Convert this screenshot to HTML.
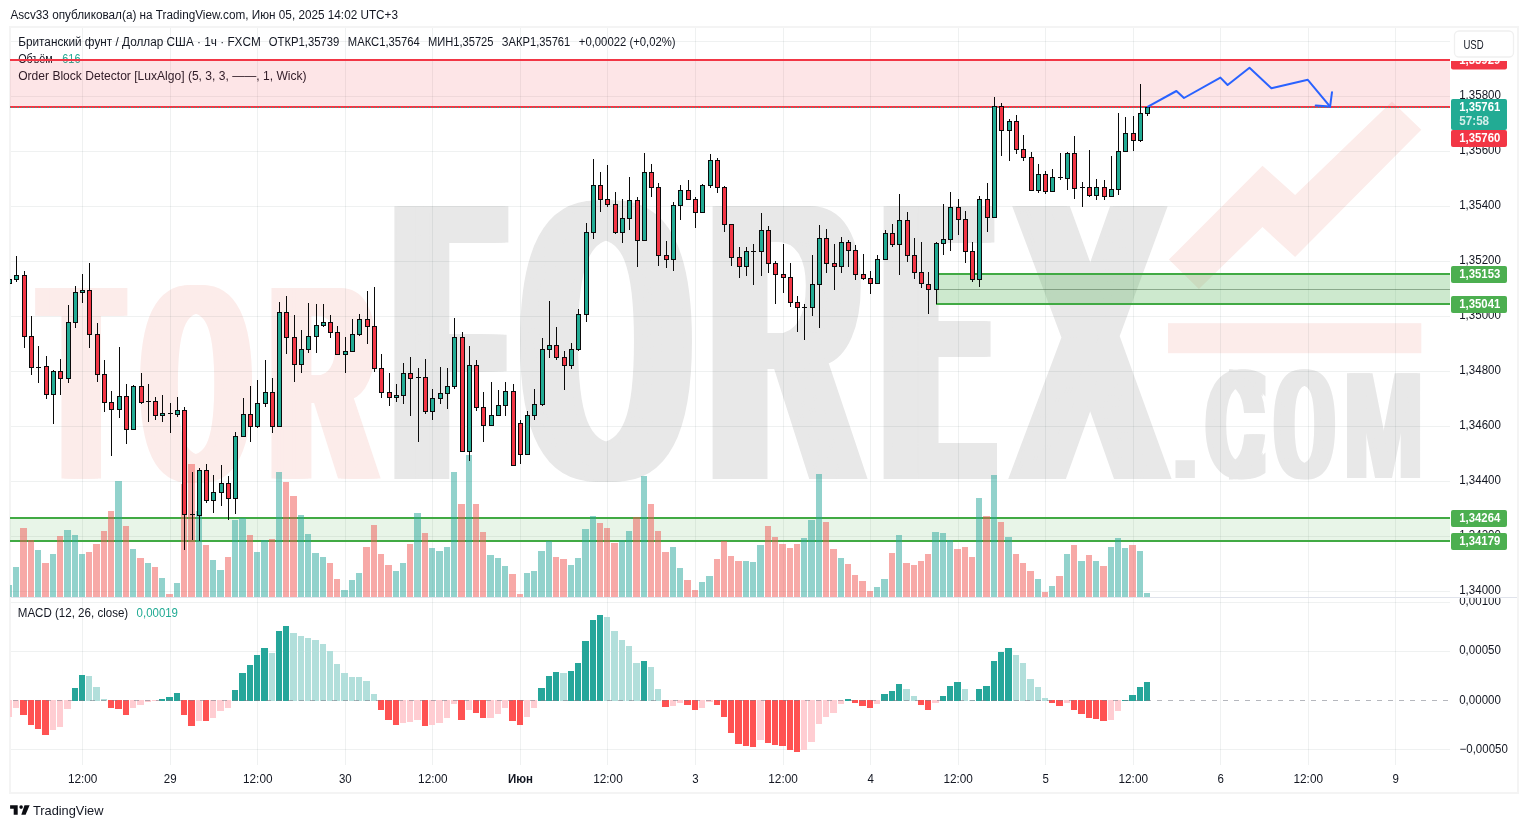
<!DOCTYPE html><html lang="ru"><head><meta charset="utf-8"><title>GBPUSD</title><style>html,body{margin:0;padding:0;background:#fff;overflow:hidden}svg{display:block}</style></head><body><svg width="1528" height="828" viewBox="0 0 1528 828" font-family='"Liberation Sans", sans-serif' font-size="12" fill="#131722">
<rect width="1528" height="828" fill="#fff"/>
<rect x="10" y="27" width="1508" height="766" fill="#fff" stroke="#f4f4f4" stroke-width="2"/>
<defs><clipPath id="cm"><rect x="10" y="28" width="1440" height="569"/></clipPath><clipPath id="cp"><rect x="10" y="598" width="1440" height="167"/></clipPath><clipPath id="ca"><rect x="1451" y="598" width="66" height="167"/></clipPath><clipPath id="cl"><rect x="1451" y="61" width="66" height="536"/></clipPath></defs>
<g clip-path="url(#cm)">
<g stroke-linejoin="miter"><text transform="translate(34.17,474.97) scale(0.4184,1)" font-family='"Liberation Sans", sans-serif' font-weight="normal" font-size="266.34" stroke-width="7.26" fill="#fcecea" stroke="#fcecea">T</text><text transform="translate(131.88,474.62) scale(0.7697,1)" font-family='"DejaVu Sans Mono", monospace' font-weight="normal" font-size="250.74" stroke-width="7.74" fill="#fcecea" stroke="#fcecea">O</text><text transform="translate(262.25,474.97) scale(0.5079,1)" font-family='"Liberation Sans", sans-serif' font-weight="normal" font-size="266.34" stroke-width="7.26" fill="#fcecea" stroke="#fcecea">R</text><text transform="translate(383.43,475.70) scale(0.3862,1)" font-family='"Liberation Sans", sans-serif' font-weight="normal" font-size="386.76" stroke-width="6.61" fill="#e8e8e8" stroke="#e8e8e8">F</text><text transform="translate(507.15,471.78) scale(0.8247,1)" font-family='"DejaVu Sans Mono", monospace' font-weight="normal" font-size="359.02" stroke-width="9.78" fill="#e8e8e8" stroke="#e8e8e8">O</text><text transform="translate(698.11,475.70) scale(0.5099,1)" font-family='"Liberation Sans", sans-serif' font-weight="normal" font-size="386.76" stroke-width="6.61" fill="#e8e8e8" stroke="#e8e8e8">R</text><text transform="translate(874.02,475.70) scale(0.3370,1)" font-family='"Liberation Sans", sans-serif' font-weight="normal" font-size="386.76" stroke-width="6.61" fill="#e8e8e8" stroke="#e8e8e8">E</text><text transform="translate(1007.13,475.70) scale(0.5132,1)" font-family='"Liberation Sans", sans-serif' font-weight="normal" font-size="386.76" stroke-width="6.61" fill="#e8e8e8" stroke="#e8e8e8">X</text><text transform="translate(1166.19,477.80) scale(1.1523,1)" font-family='"Liberation Sans", sans-serif' font-weight="bold" font-size="118.79" stroke-width="0.00" fill="#e8e8e8" stroke="#e8e8e8">.</text><text transform="translate(1199.69,475.15) scale(0.8049,1)" font-family='"DejaVu Sans Mono", monospace' font-weight="normal" font-size="138.31" stroke-width="4.63" fill="#e8e8e8" stroke="#e8e8e8">C</text><text transform="translate(1269.47,475.15) scale(0.7606,1)" font-family='"DejaVu Sans Mono", monospace' font-weight="normal" font-size="138.31" stroke-width="4.63" fill="#e8e8e8" stroke="#e8e8e8">O</text><text transform="translate(1340.70,477.80) scale(0.6198,1)" font-family='"Liberation Sans", sans-serif' font-weight="bold" font-size="151.74" stroke-width="0.00" fill="#e8e8e8" stroke="#e8e8e8">M</text><text transform="translate(37.08,474.97) scale(0.4184,1)" font-family='"Liberation Sans", sans-serif' font-weight="normal" font-size="266.34" stroke-width="7.26" fill="#fcecea" stroke="#fcecea">T</text><text transform="translate(134.31,474.62) scale(0.7697,1)" font-family='"DejaVu Sans Mono", monospace' font-weight="normal" font-size="250.74" stroke-width="7.74" fill="#fcecea" stroke="#fcecea">O</text><text transform="translate(265.20,474.97) scale(0.5079,1)" font-family='"Liberation Sans", sans-serif' font-weight="normal" font-size="266.34" stroke-width="7.26" fill="#fcecea" stroke="#fcecea">R</text><text transform="translate(386.38,475.70) scale(0.3862,1)" font-family='"Liberation Sans", sans-serif' font-weight="normal" font-size="386.76" stroke-width="6.61" fill="#e8e8e8" stroke="#e8e8e8">F</text><text transform="translate(509.93,471.78) scale(0.8247,1)" font-family='"DejaVu Sans Mono", monospace' font-weight="normal" font-size="359.02" stroke-width="9.78" fill="#e8e8e8" stroke="#e8e8e8">O</text><text transform="translate(700.87,475.70) scale(0.5099,1)" font-family='"Liberation Sans", sans-serif' font-weight="normal" font-size="386.76" stroke-width="6.61" fill="#e8e8e8" stroke="#e8e8e8">R</text><text transform="translate(876.92,475.70) scale(0.3370,1)" font-family='"Liberation Sans", sans-serif' font-weight="normal" font-size="386.76" stroke-width="6.61" fill="#e8e8e8" stroke="#e8e8e8">E</text><text transform="translate(1010.13,475.70) scale(0.5132,1)" font-family='"Liberation Sans", sans-serif' font-weight="normal" font-size="386.76" stroke-width="6.61" fill="#e8e8e8" stroke="#e8e8e8">X</text><text transform="translate(1202.50,475.15) scale(0.8049,1)" font-family='"DejaVu Sans Mono", monospace' font-weight="normal" font-size="138.31" stroke-width="4.63" fill="#e8e8e8" stroke="#e8e8e8">C</text><text transform="translate(1271.61,475.15) scale(0.7606,1)" font-family='"DejaVu Sans Mono", monospace' font-weight="normal" font-size="138.31" stroke-width="4.63" fill="#e8e8e8" stroke="#e8e8e8">O</text><text transform="translate(1343.12,477.80) scale(0.6198,1)" font-family='"Liberation Sans", sans-serif' font-weight="bold" font-size="151.74" stroke-width="0.00" fill="#e8e8e8" stroke="#e8e8e8">M</text><text transform="translate(39.99,474.97) scale(0.4184,1)" font-family='"Liberation Sans", sans-serif' font-weight="normal" font-size="266.34" stroke-width="7.26" fill="#fcecea" stroke="#fcecea">T</text><text transform="translate(136.74,474.62) scale(0.7697,1)" font-family='"DejaVu Sans Mono", monospace' font-weight="normal" font-size="250.74" stroke-width="7.74" fill="#fcecea" stroke="#fcecea">O</text><text transform="translate(268.15,474.97) scale(0.5079,1)" font-family='"Liberation Sans", sans-serif' font-weight="normal" font-size="266.34" stroke-width="7.26" fill="#fcecea" stroke="#fcecea">R</text><text transform="translate(389.34,475.70) scale(0.3862,1)" font-family='"Liberation Sans", sans-serif' font-weight="normal" font-size="386.76" stroke-width="6.61" fill="#e8e8e8" stroke="#e8e8e8">F</text><text transform="translate(512.71,471.78) scale(0.8247,1)" font-family='"DejaVu Sans Mono", monospace' font-weight="normal" font-size="359.02" stroke-width="9.78" fill="#e8e8e8" stroke="#e8e8e8">O</text><text transform="translate(703.63,475.70) scale(0.5099,1)" font-family='"Liberation Sans", sans-serif' font-weight="normal" font-size="386.76" stroke-width="6.61" fill="#e8e8e8" stroke="#e8e8e8">R</text><text transform="translate(879.81,475.70) scale(0.3370,1)" font-family='"Liberation Sans", sans-serif' font-weight="normal" font-size="386.76" stroke-width="6.61" fill="#e8e8e8" stroke="#e8e8e8">E</text><text transform="translate(1013.12,475.70) scale(0.5132,1)" font-family='"Liberation Sans", sans-serif' font-weight="normal" font-size="386.76" stroke-width="6.61" fill="#e8e8e8" stroke="#e8e8e8">X</text><text transform="translate(1205.30,475.15) scale(0.8049,1)" font-family='"DejaVu Sans Mono", monospace' font-weight="normal" font-size="138.31" stroke-width="4.63" fill="#e8e8e8" stroke="#e8e8e8">C</text><text transform="translate(1273.76,475.15) scale(0.7606,1)" font-family='"DejaVu Sans Mono", monospace' font-weight="normal" font-size="138.31" stroke-width="4.63" fill="#e8e8e8" stroke="#e8e8e8">O</text><text transform="translate(1345.54,477.80) scale(0.6198,1)" font-family='"Liberation Sans", sans-serif' font-weight="bold" font-size="151.74" stroke-width="0.00" fill="#e8e8e8" stroke="#e8e8e8">M</text><text transform="translate(42.90,474.97) scale(0.4184,1)" font-family='"Liberation Sans", sans-serif' font-weight="normal" font-size="266.34" stroke-width="7.26" fill="#fcecea" stroke="#fcecea">T</text><text transform="translate(139.18,474.62) scale(0.7697,1)" font-family='"DejaVu Sans Mono", monospace' font-weight="normal" font-size="250.74" stroke-width="7.74" fill="#fcecea" stroke="#fcecea">O</text><text transform="translate(271.10,474.97) scale(0.5079,1)" font-family='"Liberation Sans", sans-serif' font-weight="normal" font-size="266.34" stroke-width="7.26" fill="#fcecea" stroke="#fcecea">R</text><text transform="translate(392.29,475.70) scale(0.3862,1)" font-family='"Liberation Sans", sans-serif' font-weight="normal" font-size="386.76" stroke-width="6.61" fill="#e8e8e8" stroke="#e8e8e8">F</text><text transform="translate(515.48,471.78) scale(0.8247,1)" font-family='"DejaVu Sans Mono", monospace' font-weight="normal" font-size="359.02" stroke-width="9.78" fill="#e8e8e8" stroke="#e8e8e8">O</text><text transform="translate(706.39,475.70) scale(0.5099,1)" font-family='"Liberation Sans", sans-serif' font-weight="normal" font-size="386.76" stroke-width="6.61" fill="#e8e8e8" stroke="#e8e8e8">R</text><text transform="translate(882.71,475.70) scale(0.3370,1)" font-family='"Liberation Sans", sans-serif' font-weight="normal" font-size="386.76" stroke-width="6.61" fill="#e8e8e8" stroke="#e8e8e8">E</text><text transform="translate(1016.12,475.70) scale(0.5132,1)" font-family='"Liberation Sans", sans-serif' font-weight="normal" font-size="386.76" stroke-width="6.61" fill="#e8e8e8" stroke="#e8e8e8">X</text><text transform="translate(1275.91,475.15) scale(0.7606,1)" font-family='"DejaVu Sans Mono", monospace' font-weight="normal" font-size="138.31" stroke-width="4.63" fill="#e8e8e8" stroke="#e8e8e8">O</text><text transform="translate(1347.95,477.80) scale(0.6198,1)" font-family='"Liberation Sans", sans-serif' font-weight="bold" font-size="151.74" stroke-width="0.00" fill="#e8e8e8" stroke="#e8e8e8">M</text><text transform="translate(45.81,474.97) scale(0.4184,1)" font-family='"Liberation Sans", sans-serif' font-weight="normal" font-size="266.34" stroke-width="7.26" fill="#fcecea" stroke="#fcecea">T</text><text transform="translate(141.61,474.62) scale(0.7697,1)" font-family='"DejaVu Sans Mono", monospace' font-weight="normal" font-size="250.74" stroke-width="7.74" fill="#fcecea" stroke="#fcecea">O</text><text transform="translate(274.05,474.97) scale(0.5079,1)" font-family='"Liberation Sans", sans-serif' font-weight="normal" font-size="266.34" stroke-width="7.26" fill="#fcecea" stroke="#fcecea">R</text><text transform="translate(395.25,475.70) scale(0.3862,1)" font-family='"Liberation Sans", sans-serif' font-weight="normal" font-size="386.76" stroke-width="6.61" fill="#e8e8e8" stroke="#e8e8e8">F</text><text transform="translate(518.26,471.78) scale(0.8247,1)" font-family='"DejaVu Sans Mono", monospace' font-weight="normal" font-size="359.02" stroke-width="9.78" fill="#e8e8e8" stroke="#e8e8e8">O</text><text transform="translate(709.15,475.70) scale(0.5099,1)" font-family='"Liberation Sans", sans-serif' font-weight="normal" font-size="386.76" stroke-width="6.61" fill="#e8e8e8" stroke="#e8e8e8">R</text><text transform="translate(885.60,475.70) scale(0.3370,1)" font-family='"Liberation Sans", sans-serif' font-weight="normal" font-size="386.76" stroke-width="6.61" fill="#e8e8e8" stroke="#e8e8e8">E</text><text transform="translate(1019.11,475.70) scale(0.5132,1)" font-family='"Liberation Sans", sans-serif' font-weight="normal" font-size="386.76" stroke-width="6.61" fill="#e8e8e8" stroke="#e8e8e8">X</text><text transform="translate(48.72,474.97) scale(0.4184,1)" font-family='"Liberation Sans", sans-serif' font-weight="normal" font-size="266.34" stroke-width="7.26" fill="#fcecea" stroke="#fcecea">T</text><text transform="translate(144.04,474.62) scale(0.7697,1)" font-family='"DejaVu Sans Mono", monospace' font-weight="normal" font-size="250.74" stroke-width="7.74" fill="#fcecea" stroke="#fcecea">O</text><text transform="translate(277.00,474.97) scale(0.5079,1)" font-family='"Liberation Sans", sans-serif' font-weight="normal" font-size="266.34" stroke-width="7.26" fill="#fcecea" stroke="#fcecea">R</text><text transform="translate(398.20,475.70) scale(0.3862,1)" font-family='"Liberation Sans", sans-serif' font-weight="normal" font-size="386.76" stroke-width="6.61" fill="#e8e8e8" stroke="#e8e8e8">F</text><text transform="translate(521.04,471.78) scale(0.8247,1)" font-family='"DejaVu Sans Mono", monospace' font-weight="normal" font-size="359.02" stroke-width="9.78" fill="#e8e8e8" stroke="#e8e8e8">O</text><text transform="translate(711.90,475.70) scale(0.5099,1)" font-family='"Liberation Sans", sans-serif' font-weight="normal" font-size="386.76" stroke-width="6.61" fill="#e8e8e8" stroke="#e8e8e8">R</text><text transform="translate(888.50,475.70) scale(0.3370,1)" font-family='"Liberation Sans", sans-serif' font-weight="normal" font-size="386.76" stroke-width="6.61" fill="#e8e8e8" stroke="#e8e8e8">E</text><text transform="translate(1022.11,475.70) scale(0.5132,1)" font-family='"Liberation Sans", sans-serif' font-weight="normal" font-size="386.76" stroke-width="6.61" fill="#e8e8e8" stroke="#e8e8e8">X</text><text transform="translate(51.63,474.97) scale(0.4184,1)" font-family='"Liberation Sans", sans-serif' font-weight="normal" font-size="266.34" stroke-width="7.26" fill="#fcecea" stroke="#fcecea">T</text><text transform="translate(279.95,474.97) scale(0.5079,1)" font-family='"Liberation Sans", sans-serif' font-weight="normal" font-size="266.34" stroke-width="7.26" fill="#fcecea" stroke="#fcecea">R</text><text transform="translate(401.15,475.70) scale(0.3862,1)" font-family='"Liberation Sans", sans-serif' font-weight="normal" font-size="386.76" stroke-width="6.61" fill="#e8e8e8" stroke="#e8e8e8">F</text><text transform="translate(523.81,471.78) scale(0.8247,1)" font-family='"DejaVu Sans Mono", monospace' font-weight="normal" font-size="359.02" stroke-width="9.78" fill="#e8e8e8" stroke="#e8e8e8">O</text><text transform="translate(714.66,475.70) scale(0.5099,1)" font-family='"Liberation Sans", sans-serif' font-weight="normal" font-size="386.76" stroke-width="6.61" fill="#e8e8e8" stroke="#e8e8e8">R</text><text transform="translate(891.39,475.70) scale(0.3370,1)" font-family='"Liberation Sans", sans-serif' font-weight="normal" font-size="386.76" stroke-width="6.61" fill="#e8e8e8" stroke="#e8e8e8">E</text><text transform="translate(1025.10,475.70) scale(0.5132,1)" font-family='"Liberation Sans", sans-serif' font-weight="normal" font-size="386.76" stroke-width="6.61" fill="#e8e8e8" stroke="#e8e8e8">X</text><text transform="translate(54.53,474.97) scale(0.4184,1)" font-family='"Liberation Sans", sans-serif' font-weight="normal" font-size="266.34" stroke-width="7.26" fill="#fcecea" stroke="#fcecea">T</text><text transform="translate(282.90,474.97) scale(0.5079,1)" font-family='"Liberation Sans", sans-serif' font-weight="normal" font-size="266.34" stroke-width="7.26" fill="#fcecea" stroke="#fcecea">R</text><text transform="translate(404.11,475.70) scale(0.3862,1)" font-family='"Liberation Sans", sans-serif' font-weight="normal" font-size="386.76" stroke-width="6.61" fill="#e8e8e8" stroke="#e8e8e8">F</text><text transform="translate(526.59,471.78) scale(0.8247,1)" font-family='"DejaVu Sans Mono", monospace' font-weight="normal" font-size="359.02" stroke-width="9.78" fill="#e8e8e8" stroke="#e8e8e8">O</text><text transform="translate(717.42,475.70) scale(0.5099,1)" font-family='"Liberation Sans", sans-serif' font-weight="normal" font-size="386.76" stroke-width="6.61" fill="#e8e8e8" stroke="#e8e8e8">R</text><text transform="translate(894.28,475.70) scale(0.3370,1)" font-family='"Liberation Sans", sans-serif' font-weight="normal" font-size="386.76" stroke-width="6.61" fill="#e8e8e8" stroke="#e8e8e8">E</text><text transform="translate(1028.10,475.70) scale(0.5132,1)" font-family='"Liberation Sans", sans-serif' font-weight="normal" font-size="386.76" stroke-width="6.61" fill="#e8e8e8" stroke="#e8e8e8">X</text><text transform="translate(57.44,474.97) scale(0.4184,1)" font-family='"Liberation Sans", sans-serif' font-weight="normal" font-size="266.34" stroke-width="7.26" fill="#fcecea" stroke="#fcecea">T</text><text transform="translate(285.85,474.97) scale(0.5079,1)" font-family='"Liberation Sans", sans-serif' font-weight="normal" font-size="266.34" stroke-width="7.26" fill="#fcecea" stroke="#fcecea">R</text><text transform="translate(407.06,475.70) scale(0.3862,1)" font-family='"Liberation Sans", sans-serif' font-weight="normal" font-size="386.76" stroke-width="6.61" fill="#e8e8e8" stroke="#e8e8e8">F</text><text transform="translate(720.18,475.70) scale(0.5099,1)" font-family='"Liberation Sans", sans-serif' font-weight="normal" font-size="386.76" stroke-width="6.61" fill="#e8e8e8" stroke="#e8e8e8">R</text><text transform="translate(897.18,475.70) scale(0.3370,1)" font-family='"Liberation Sans", sans-serif' font-weight="normal" font-size="386.76" stroke-width="6.61" fill="#e8e8e8" stroke="#e8e8e8">E</text><text transform="translate(1031.09,475.70) scale(0.5132,1)" font-family='"Liberation Sans", sans-serif' font-weight="normal" font-size="386.76" stroke-width="6.61" fill="#e8e8e8" stroke="#e8e8e8">X</text><text transform="translate(60.35,474.97) scale(0.4184,1)" font-family='"Liberation Sans", sans-serif' font-weight="normal" font-size="266.34" stroke-width="7.26" fill="#fcecea" stroke="#fcecea">T</text><text transform="translate(410.02,475.70) scale(0.3862,1)" font-family='"Liberation Sans", sans-serif' font-weight="normal" font-size="386.76" stroke-width="6.61" fill="#e8e8e8" stroke="#e8e8e8">F</text><text transform="translate(722.94,475.70) scale(0.5099,1)" font-family='"Liberation Sans", sans-serif' font-weight="normal" font-size="386.76" stroke-width="6.61" fill="#e8e8e8" stroke="#e8e8e8">R</text><text transform="translate(900.07,475.70) scale(0.3370,1)" font-family='"Liberation Sans", sans-serif' font-weight="normal" font-size="386.76" stroke-width="6.61" fill="#e8e8e8" stroke="#e8e8e8">E</text><text transform="translate(1034.09,475.70) scale(0.5132,1)" font-family='"Liberation Sans", sans-serif' font-weight="normal" font-size="386.76" stroke-width="6.61" fill="#e8e8e8" stroke="#e8e8e8">X</text><text transform="translate(412.97,475.70) scale(0.3862,1)" font-family='"Liberation Sans", sans-serif' font-weight="normal" font-size="386.76" stroke-width="6.61" fill="#e8e8e8" stroke="#e8e8e8">F</text><text transform="translate(725.69,475.70) scale(0.5099,1)" font-family='"Liberation Sans", sans-serif' font-weight="normal" font-size="386.76" stroke-width="6.61" fill="#e8e8e8" stroke="#e8e8e8">R</text><text transform="translate(902.97,475.70) scale(0.3370,1)" font-family='"Liberation Sans", sans-serif' font-weight="normal" font-size="386.76" stroke-width="6.61" fill="#e8e8e8" stroke="#e8e8e8">E</text><text transform="translate(1037.09,475.70) scale(0.5132,1)" font-family='"Liberation Sans", sans-serif' font-weight="normal" font-size="386.76" stroke-width="6.61" fill="#e8e8e8" stroke="#e8e8e8">X</text><text transform="translate(415.93,475.70) scale(0.3862,1)" font-family='"Liberation Sans", sans-serif' font-weight="normal" font-size="386.76" stroke-width="6.61" fill="#e8e8e8" stroke="#e8e8e8">F</text><text transform="translate(728.45,475.70) scale(0.5099,1)" font-family='"Liberation Sans", sans-serif' font-weight="normal" font-size="386.76" stroke-width="6.61" fill="#e8e8e8" stroke="#e8e8e8">R</text><text transform="translate(905.86,475.70) scale(0.3370,1)" font-family='"Liberation Sans", sans-serif' font-weight="normal" font-size="386.76" stroke-width="6.61" fill="#e8e8e8" stroke="#e8e8e8">E</text><text transform="translate(1040.08,475.70) scale(0.5132,1)" font-family='"Liberation Sans", sans-serif' font-weight="normal" font-size="386.76" stroke-width="6.61" fill="#e8e8e8" stroke="#e8e8e8">X</text><text transform="translate(418.88,475.70) scale(0.3862,1)" font-family='"Liberation Sans", sans-serif' font-weight="normal" font-size="386.76" stroke-width="6.61" fill="#e8e8e8" stroke="#e8e8e8">F</text><text transform="translate(731.21,475.70) scale(0.5099,1)" font-family='"Liberation Sans", sans-serif' font-weight="normal" font-size="386.76" stroke-width="6.61" fill="#e8e8e8" stroke="#e8e8e8">R</text><text transform="translate(908.76,475.70) scale(0.3370,1)" font-family='"Liberation Sans", sans-serif' font-weight="normal" font-size="386.76" stroke-width="6.61" fill="#e8e8e8" stroke="#e8e8e8">E</text><text transform="translate(421.84,475.70) scale(0.3862,1)" font-family='"Liberation Sans", sans-serif' font-weight="normal" font-size="386.76" stroke-width="6.61" fill="#e8e8e8" stroke="#e8e8e8">F</text><text transform="translate(911.65,475.70) scale(0.3370,1)" font-family='"Liberation Sans", sans-serif' font-weight="normal" font-size="386.76" stroke-width="6.61" fill="#e8e8e8" stroke="#e8e8e8">E</text><text transform="translate(914.54,475.70) scale(0.3370,1)" font-family='"Liberation Sans", sans-serif' font-weight="normal" font-size="386.76" stroke-width="6.61" fill="#e8e8e8" stroke="#e8e8e8">E</text></g><clipPath id="cc"><rect x="1229" y="360" width="51" height="53"/><rect x="1229" y="434.6" width="51" height="50"/></clipPath><g clip-path="url(#cc)" fill="#e8e8e8" stroke="#e8e8e8" stroke-linejoin="miter"><text transform="translate(1265.60,475.15) scale(-0.8049,1)" font-family='"DejaVu Sans Mono", monospace' font-weight="normal" font-size="138.31" stroke-width="4.63">C</text><text transform="translate(1268.40,475.15) scale(-0.8049,1)" font-family='"DejaVu Sans Mono", monospace' font-weight="normal" font-size="138.31" stroke-width="4.63">C</text><text transform="translate(1271.21,475.15) scale(-0.8049,1)" font-family='"DejaVu Sans Mono", monospace' font-weight="normal" font-size="138.31" stroke-width="4.63">C</text></g><polygon fill="#fcecea" points="1168.9,259.6 1262.5,165.7 1295.1,195 1392,101.4 1421.3,129.8 1295.1,257 1262.5,227 1198.9,288.9"/><rect fill="#fcecea" x="1168" y="323.2" width="253.3" height="30"/>
</g>
<g fill="rgba(25,55,50,0.07)"><rect x="82" y="28" width="1" height="737"/><rect x="170" y="28" width="1" height="737"/><rect x="257" y="28" width="1" height="737"/><rect x="345" y="28" width="1" height="737"/><rect x="432" y="28" width="1" height="737"/><rect x="520" y="28" width="1" height="737"/><rect x="607" y="28" width="1" height="737"/><rect x="695" y="28" width="1" height="737"/><rect x="783" y="28" width="1" height="737"/><rect x="870" y="28" width="1" height="737"/><rect x="958" y="28" width="1" height="737"/><rect x="1045" y="28" width="1" height="737"/><rect x="1133" y="28" width="1" height="737"/><rect x="1220" y="28" width="1" height="737"/><rect x="1308" y="28" width="1" height="737"/><rect x="1395" y="28" width="1" height="737"/><rect x="11" y="41" width="1439" height="1"/><rect x="11" y="96" width="1439" height="1"/><rect x="11" y="151" width="1439" height="1"/><rect x="11" y="206" width="1439" height="1"/><rect x="11" y="261" width="1439" height="1"/><rect x="11" y="316" width="1439" height="1"/><rect x="11" y="371" width="1439" height="1"/><rect x="11" y="426" width="1439" height="1"/><rect x="11" y="481" width="1439" height="1"/><rect x="11" y="536" width="1439" height="1"/><rect x="11" y="591" width="1439" height="1"/><rect x="11" y="602" width="1439" height="1"/><rect x="11" y="651" width="1439" height="1"/><rect x="11" y="749" width="1439" height="1"/></g>
<rect x="11" y="597" width="1506" height="1" fill="#e0e3eb"/>
<text x="18.2" y="46.3" textLength="242.6" lengthAdjust="spacingAndGlyphs" font-size="12.5">Британский фунт / Доллар США · 1ч · FXCM</text>
<text x="268.8" y="46.3" textLength="70.5" lengthAdjust="spacingAndGlyphs" font-size="12.5">ОТКР1,35739</text>
<text x="347.8" y="46.3" textLength="71.9" lengthAdjust="spacingAndGlyphs" font-size="12.5">МАКС1,35764</text>
<text x="427.9" y="46.3" textLength="65.6" lengthAdjust="spacingAndGlyphs" font-size="12.5">МИН1,35725</text>
<text x="501.8" y="46.3" textLength="68.5" lengthAdjust="spacingAndGlyphs" font-size="12.5">ЗАКР1,35761</text>
<text x="578.8" y="46.3" textLength="96.8" lengthAdjust="spacingAndGlyphs" font-size="12.5">+0,00022 (+0,02%)</text>
<text x="18.2" y="63.2" textLength="34.5" lengthAdjust="spacingAndGlyphs" font-size="12.5">Объём</text>
<text x="62.3" y="63.2" textLength="18.2" lengthAdjust="spacingAndGlyphs" fill="#22ab94" font-size="12.5">616</text>
<text x="18.2" y="80.2" textLength="288.4" lengthAdjust="spacingAndGlyphs" font-size="12.5">Order Block Detector [LuxAlgo] (5, 3, 3, ——, 1, Wick)</text>
<g clip-path="url(#cm)">
<rect x="10" y="60" width="1440" height="47" fill="rgba(242,54,69,0.13)"/>
<rect x="10" y="59" width="1440" height="2" fill="#f23645"/><rect x="10" y="106" width="1440" height="2" fill="#f23645"/>
<rect x="10" y="518" width="1440" height="23" fill="rgba(76,175,80,0.13)"/>
<rect x="10" y="517" width="1440" height="2" fill="#41aa44"/><rect x="10" y="540" width="1440" height="2" fill="#41aa44"/>
<rect x="936" y="274" width="514" height="30" fill="rgba(76,175,80,0.28)"/>
<rect x="936" y="273" width="514" height="2" fill="#41aa44"/><rect x="936" y="303" width="514" height="2" fill="#41aa44"/>
<rect x="936" y="289" width="514" height="1" fill="rgba(60,90,60,0.45)"/>
</g>
<g clip-path="url(#cm)"><g fill="rgba(38,166,154,0.5)"><rect x="6" y="585" width="6" height="12"/><rect x="13" y="567" width="6" height="30"/><rect x="35" y="550" width="6" height="47"/><rect x="50" y="554" width="6" height="43"/><rect x="64" y="530" width="7" height="67"/><rect x="72" y="535" width="6" height="62"/><rect x="79" y="554" width="6" height="43"/><rect x="115" y="481" width="7" height="116"/><rect x="130" y="549" width="6" height="48"/><rect x="145" y="563" width="6" height="34"/><rect x="159" y="578" width="6" height="19"/><rect x="174" y="583" width="6" height="14"/><rect x="196" y="511" width="6" height="86"/><rect x="210" y="560" width="6" height="37"/><rect x="217" y="570" width="7" height="27"/><rect x="232" y="520" width="6" height="77"/><rect x="239" y="518" width="7" height="79"/><rect x="254" y="552" width="6" height="45"/><rect x="261" y="540" width="7" height="57"/><rect x="276" y="472" width="6" height="125"/><rect x="298" y="515" width="6" height="82"/><rect x="305" y="534" width="6" height="63"/><rect x="312" y="553" width="7" height="44"/><rect x="320" y="557" width="6" height="40"/><rect x="341" y="590" width="7" height="7"/><rect x="349" y="580" width="6" height="17"/><rect x="356" y="573" width="6" height="24"/><rect x="393" y="571" width="6" height="26"/><rect x="400" y="563" width="6" height="34"/><rect x="414" y="513" width="7" height="84"/><rect x="429" y="548" width="6" height="49"/><rect x="436" y="551" width="7" height="46"/><rect x="444" y="547" width="6" height="50"/><rect x="451" y="472" width="6" height="125"/><rect x="466" y="455" width="6" height="142"/><rect x="487" y="555" width="7" height="42"/><rect x="495" y="558" width="6" height="39"/><rect x="502" y="566" width="6" height="31"/><rect x="524" y="573" width="6" height="24"/><rect x="531" y="571" width="6" height="26"/><rect x="538" y="551" width="7" height="46"/><rect x="546" y="541" width="6" height="56"/><rect x="568" y="565" width="6" height="32"/><rect x="575" y="558" width="6" height="39"/><rect x="582" y="529" width="7" height="68"/><rect x="590" y="516" width="6" height="81"/><rect x="619" y="540" width="6" height="57"/><rect x="626" y="531" width="6" height="66"/><rect x="641" y="476" width="6" height="121"/><rect x="670" y="547" width="6" height="50"/><rect x="677" y="568" width="6" height="29"/><rect x="699" y="582" width="6" height="15"/><rect x="706" y="576" width="7" height="21"/><rect x="743" y="561" width="6" height="36"/><rect x="750" y="562" width="6" height="35"/><rect x="757" y="545" width="7" height="52"/><rect x="801" y="538" width="6" height="59"/><rect x="808" y="520" width="7" height="77"/><rect x="816" y="474" width="6" height="123"/><rect x="838" y="558" width="6" height="39"/><rect x="874" y="587" width="6" height="10"/><rect x="881" y="579" width="7" height="18"/><rect x="896" y="535" width="6" height="62"/><rect x="932" y="532" width="7" height="65"/><rect x="940" y="533" width="6" height="64"/><rect x="947" y="540" width="6" height="57"/><rect x="976" y="498" width="6" height="99"/><rect x="991" y="475" width="6" height="122"/><rect x="1005" y="537" width="7" height="60"/><rect x="1035" y="579" width="6" height="18"/><rect x="1049" y="586" width="6" height="11"/><rect x="1064" y="554" width="6" height="43"/><rect x="1078" y="561" width="7" height="36"/><rect x="1093" y="561" width="6" height="36"/><rect x="1108" y="547" width="6" height="50"/><rect x="1115" y="538" width="6" height="59"/><rect x="1122" y="548" width="6" height="49"/><rect x="1137" y="551" width="6" height="46"/><rect x="1144" y="593" width="6" height="4"/></g><g fill="rgba(239,83,80,0.5)"><rect x="20" y="528" width="7" height="69"/><rect x="28" y="540" width="6" height="57"/><rect x="42" y="563" width="7" height="34"/><rect x="57" y="536" width="6" height="61"/><rect x="86" y="552" width="6" height="45"/><rect x="93" y="544" width="7" height="53"/><rect x="101" y="531" width="6" height="66"/><rect x="108" y="511" width="6" height="86"/><rect x="123" y="526" width="6" height="71"/><rect x="137" y="558" width="7" height="39"/><rect x="152" y="567" width="6" height="30"/><rect x="166" y="594" width="7" height="3"/><rect x="181" y="484" width="6" height="113"/><rect x="188" y="464" width="7" height="133"/><rect x="203" y="545" width="6" height="52"/><rect x="225" y="557" width="6" height="40"/><rect x="247" y="535" width="6" height="62"/><rect x="269" y="539" width="6" height="58"/><rect x="283" y="482" width="6" height="115"/><rect x="290" y="496" width="7" height="101"/><rect x="327" y="563" width="6" height="34"/><rect x="334" y="579" width="6" height="18"/><rect x="363" y="547" width="7" height="50"/><rect x="371" y="525" width="6" height="72"/><rect x="378" y="554" width="6" height="43"/><rect x="385" y="565" width="7" height="32"/><rect x="407" y="544" width="6" height="53"/><rect x="422" y="533" width="6" height="64"/><rect x="458" y="504" width="7" height="93"/><rect x="473" y="504" width="6" height="93"/><rect x="480" y="532" width="6" height="65"/><rect x="509" y="574" width="7" height="23"/><rect x="517" y="594" width="6" height="3"/><rect x="553" y="557" width="6" height="40"/><rect x="560" y="559" width="7" height="38"/><rect x="597" y="523" width="6" height="74"/><rect x="604" y="528" width="6" height="69"/><rect x="611" y="543" width="7" height="54"/><rect x="633" y="517" width="7" height="80"/><rect x="648" y="504" width="6" height="93"/><rect x="655" y="531" width="6" height="66"/><rect x="662" y="552" width="7" height="45"/><rect x="684" y="580" width="7" height="17"/><rect x="692" y="590" width="6" height="7"/><rect x="714" y="559" width="6" height="38"/><rect x="721" y="541" width="6" height="56"/><rect x="728" y="556" width="6" height="41"/><rect x="735" y="561" width="7" height="36"/><rect x="765" y="526" width="6" height="71"/><rect x="772" y="537" width="6" height="60"/><rect x="779" y="544" width="7" height="53"/><rect x="787" y="548" width="6" height="49"/><rect x="794" y="544" width="6" height="53"/><rect x="823" y="522" width="6" height="75"/><rect x="830" y="549" width="7" height="48"/><rect x="845" y="564" width="6" height="33"/><rect x="852" y="575" width="6" height="22"/><rect x="859" y="581" width="7" height="16"/><rect x="867" y="591" width="6" height="6"/><rect x="889" y="553" width="6" height="44"/><rect x="903" y="563" width="7" height="34"/><rect x="911" y="565" width="6" height="32"/><rect x="918" y="561" width="6" height="36"/><rect x="925" y="554" width="6" height="43"/><rect x="954" y="549" width="7" height="48"/><rect x="962" y="547" width="6" height="50"/><rect x="969" y="557" width="6" height="40"/><rect x="983" y="516" width="7" height="81"/><rect x="998" y="522" width="6" height="75"/><rect x="1013" y="554" width="6" height="43"/><rect x="1020" y="563" width="6" height="34"/><rect x="1027" y="571" width="7" height="26"/><rect x="1042" y="592" width="6" height="5"/><rect x="1056" y="576" width="7" height="21"/><rect x="1071" y="545" width="6" height="52"/><rect x="1086" y="555" width="6" height="42"/><rect x="1100" y="566" width="7" height="31"/><rect x="1129" y="545" width="7" height="52"/></g></g>
<line x1="10" y1="107.5" x2="1450" y2="107.5" stroke="#22ab94" stroke-width="1" stroke-dasharray="1 2"/>
<g clip-path="url(#cm)" shape-rendering="crispEdges">
<g fill="#0a0a0a"><rect x="9" y="279" width="1" height="5"/><rect x="16" y="256" width="1" height="26"/><rect x="24" y="271" width="1" height="77"/><rect x="31" y="316" width="1" height="59"/><rect x="38" y="346" width="1" height="37"/><rect x="46" y="356" width="1" height="43"/><rect x="53" y="370" width="1" height="54"/><rect x="60" y="359" width="1" height="36"/><rect x="68" y="305" width="1" height="78"/><rect x="75" y="286" width="1" height="42"/><rect x="82" y="274" width="1" height="29"/><rect x="89" y="263" width="1" height="85"/><rect x="97" y="323" width="1" height="59"/><rect x="104" y="360" width="1" height="52"/><rect x="111" y="391" width="1" height="65"/><rect x="119" y="347" width="1" height="71"/><rect x="126" y="384" width="1" height="60"/><rect x="133" y="385" width="1" height="45"/><rect x="141" y="373" width="1" height="31"/><rect x="148" y="384" width="1" height="38"/><rect x="155" y="397" width="1" height="23"/><rect x="162" y="395" width="1" height="27"/><rect x="170" y="403" width="1" height="30"/><rect x="177" y="397" width="1" height="20"/><rect x="184" y="407" width="1" height="143"/><rect x="192" y="472" width="1" height="68"/><rect x="199" y="468" width="1" height="73"/><rect x="206" y="464" width="1" height="39"/><rect x="213" y="475" width="1" height="38"/><rect x="221" y="465" width="1" height="41"/><rect x="228" y="476" width="1" height="44"/><rect x="235" y="432" width="1" height="82"/><rect x="243" y="398" width="1" height="39"/><rect x="250" y="386" width="1" height="56"/><rect x="257" y="380" width="1" height="48"/><rect x="265" y="360" width="1" height="47"/><rect x="272" y="378" width="1" height="55"/><rect x="279" y="302" width="1" height="125"/><rect x="286" y="296" width="1" height="58"/><rect x="294" y="315" width="1" height="67"/><rect x="301" y="330" width="1" height="43"/><rect x="308" y="303" width="1" height="50"/><rect x="316" y="304" width="1" height="49"/><rect x="323" y="304" width="1" height="23"/><rect x="330" y="315" width="1" height="23"/><rect x="337" y="326" width="1" height="29"/><rect x="345" y="337" width="1" height="36"/><rect x="352" y="319" width="1" height="33"/><rect x="359" y="314" width="1" height="22"/><rect x="367" y="291" width="1" height="53"/><rect x="374" y="287" width="1" height="85"/><rect x="381" y="354" width="1" height="44"/><rect x="389" y="373" width="1" height="33"/><rect x="396" y="384" width="1" height="18"/><rect x="403" y="363" width="1" height="41"/><rect x="410" y="357" width="1" height="59"/><rect x="418" y="368" width="1" height="74"/><rect x="425" y="359" width="1" height="55"/><rect x="432" y="389" width="1" height="31"/><rect x="440" y="367" width="1" height="37"/><rect x="447" y="368" width="1" height="41"/><rect x="454" y="318" width="1" height="71"/><rect x="462" y="332" width="1" height="120"/><rect x="469" y="346" width="1" height="115"/><rect x="476" y="360" width="1" height="51"/><rect x="483" y="392" width="1" height="50"/><rect x="491" y="382" width="1" height="44"/><rect x="498" y="390" width="1" height="26"/><rect x="505" y="382" width="1" height="34"/><rect x="513" y="384" width="1" height="82"/><rect x="520" y="420" width="1" height="44"/><rect x="527" y="411" width="1" height="44"/><rect x="534" y="389" width="1" height="31"/><rect x="542" y="338" width="1" height="68"/><rect x="549" y="301" width="1" height="57"/><rect x="556" y="327" width="1" height="33"/><rect x="564" y="351" width="1" height="39"/><rect x="571" y="343" width="1" height="26"/><rect x="578" y="309" width="1" height="42"/><rect x="586" y="223" width="1" height="99"/><rect x="593" y="159" width="1" height="80"/><rect x="600" y="172" width="1" height="40"/><rect x="607" y="165" width="1" height="42"/><rect x="615" y="192" width="1" height="42"/><rect x="622" y="199" width="1" height="44"/><rect x="629" y="177" width="1" height="53"/><rect x="637" y="197" width="1" height="70"/><rect x="644" y="153" width="1" height="88"/><rect x="651" y="164" width="1" height="33"/><rect x="658" y="183" width="1" height="83"/><rect x="666" y="241" width="1" height="27"/><rect x="673" y="202" width="1" height="69"/><rect x="680" y="185" width="1" height="35"/><rect x="688" y="180" width="1" height="20"/><rect x="695" y="197" width="1" height="31"/><rect x="702" y="184" width="1" height="29"/><rect x="710" y="154" width="1" height="34"/><rect x="717" y="158" width="1" height="35"/><rect x="724" y="186" width="1" height="46"/><rect x="731" y="224" width="1" height="42"/><rect x="739" y="247" width="1" height="31"/><rect x="746" y="247" width="1" height="29"/><rect x="753" y="244" width="1" height="41"/><rect x="761" y="213" width="1" height="63"/><rect x="768" y="226" width="1" height="47"/><rect x="775" y="261" width="1" height="43"/><rect x="783" y="244" width="1" height="49"/><rect x="790" y="263" width="1" height="44"/><rect x="797" y="296" width="1" height="36"/><rect x="804" y="304" width="1" height="36"/><rect x="812" y="255" width="1" height="61"/><rect x="819" y="225" width="1" height="103"/><rect x="826" y="229" width="1" height="44"/><rect x="834" y="244" width="1" height="46"/><rect x="841" y="237" width="1" height="36"/><rect x="848" y="240" width="1" height="27"/><rect x="855" y="245" width="1" height="35"/><rect x="863" y="254" width="1" height="26"/><rect x="870" y="271" width="1" height="23"/><rect x="877" y="255" width="1" height="29"/><rect x="885" y="230" width="1" height="30"/><rect x="892" y="224" width="1" height="23"/><rect x="899" y="194" width="1" height="81"/><rect x="907" y="212" width="1" height="50"/><rect x="914" y="238" width="1" height="41"/><rect x="921" y="242" width="1" height="46"/><rect x="928" y="272" width="1" height="42"/><rect x="936" y="242" width="1" height="62"/><rect x="943" y="204" width="1" height="51"/><rect x="950" y="192" width="1" height="59"/><rect x="958" y="199" width="1" height="36"/><rect x="965" y="211" width="1" height="52"/><rect x="972" y="242" width="1" height="40"/><rect x="979" y="196" width="1" height="91"/><rect x="987" y="183" width="1" height="49"/><rect x="994" y="97" width="1" height="121"/><rect x="1001" y="103" width="1" height="53"/><rect x="1009" y="119" width="1" height="42"/><rect x="1016" y="115" width="1" height="39"/><rect x="1023" y="135" width="1" height="26"/><rect x="1031" y="152" width="1" height="39"/><rect x="1038" y="164" width="1" height="29"/><rect x="1045" y="171" width="1" height="23"/><rect x="1052" y="169" width="1" height="23"/><rect x="1060" y="153" width="1" height="27"/><rect x="1067" y="152" width="1" height="38"/><rect x="1074" y="136" width="1" height="63"/><rect x="1082" y="182" width="1" height="25"/><rect x="1089" y="150" width="1" height="47"/><rect x="1096" y="179" width="1" height="21"/><rect x="1104" y="180" width="1" height="20"/><rect x="1111" y="156" width="1" height="41"/><rect x="1118" y="113" width="1" height="82"/><rect x="1125" y="117" width="1" height="35"/><rect x="1133" y="116" width="1" height="35"/><rect x="1140" y="84" width="1" height="58"/><rect x="1147" y="106" width="1" height="10"/><rect x="7" y="279" width="5" height="5"/><rect x="14" y="275" width="5" height="5"/><rect x="22" y="275" width="5" height="62"/><rect x="29" y="336" width="5" height="32"/><rect x="36" y="367" width="5" height="1"/><rect x="44" y="366" width="5" height="29"/><rect x="51" y="371" width="5" height="24"/><rect x="58" y="371" width="5" height="8"/><rect x="66" y="322" width="5" height="57"/><rect x="73" y="292" width="5" height="31"/><rect x="80" y="290" width="5" height="3"/><rect x="87" y="290" width="5" height="45"/><rect x="95" y="334" width="5" height="41"/><rect x="102" y="374" width="5" height="29"/><rect x="109" y="402" width="5" height="8"/><rect x="117" y="396" width="5" height="14"/><rect x="124" y="396" width="5" height="34"/><rect x="131" y="386" width="5" height="44"/><rect x="139" y="386" width="5" height="17"/><rect x="146" y="401" width="5" height="1"/><rect x="153" y="401" width="5" height="15"/><rect x="160" y="413" width="5" height="3"/><rect x="168" y="413" width="5" height="1"/><rect x="175" y="410" width="5" height="5"/><rect x="182" y="410" width="5" height="105"/><rect x="190" y="514" width="5" height="1"/><rect x="197" y="470" width="5" height="46"/><rect x="204" y="470" width="5" height="31"/><rect x="211" y="492" width="5" height="9"/><rect x="219" y="483" width="5" height="10"/><rect x="226" y="483" width="5" height="16"/><rect x="233" y="436" width="5" height="63"/><rect x="241" y="414" width="5" height="23"/><rect x="248" y="414" width="5" height="13"/><rect x="255" y="403" width="5" height="24"/><rect x="263" y="392" width="5" height="12"/><rect x="270" y="392" width="5" height="35"/><rect x="277" y="312" width="5" height="115"/><rect x="284" y="312" width="5" height="26"/><rect x="292" y="337" width="5" height="28"/><rect x="299" y="349" width="5" height="16"/><rect x="306" y="336" width="5" height="14"/><rect x="314" y="325" width="5" height="12"/><rect x="321" y="322" width="5" height="4"/><rect x="328" y="322" width="5" height="11"/><rect x="335" y="332" width="5" height="23"/><rect x="343" y="351" width="5" height="4"/><rect x="350" y="334" width="5" height="18"/><rect x="357" y="319" width="5" height="16"/><rect x="365" y="319" width="5" height="8"/><rect x="372" y="326" width="5" height="43"/><rect x="379" y="368" width="5" height="25"/><rect x="387" y="392" width="5" height="6"/><rect x="394" y="395" width="5" height="3"/><rect x="401" y="373" width="5" height="23"/><rect x="408" y="373" width="5" height="6"/><rect x="416" y="377" width="5" height="1"/><rect x="423" y="377" width="5" height="35"/><rect x="430" y="398" width="5" height="14"/><rect x="438" y="393" width="5" height="6"/><rect x="445" y="386" width="5" height="8"/><rect x="452" y="337" width="5" height="50"/><rect x="460" y="337" width="5" height="115"/><rect x="467" y="365" width="5" height="87"/><rect x="474" y="365" width="5" height="43"/><rect x="481" y="407" width="5" height="19"/><rect x="489" y="415" width="5" height="11"/><rect x="496" y="405" width="5" height="11"/><rect x="503" y="391" width="5" height="15"/><rect x="511" y="391" width="5" height="75"/><rect x="518" y="423" width="5" height="32"/><rect x="525" y="415" width="5" height="40"/><rect x="532" y="404" width="5" height="12"/><rect x="540" y="349" width="5" height="56"/><rect x="547" y="345" width="5" height="5"/><rect x="554" y="345" width="5" height="13"/><rect x="562" y="357" width="5" height="9"/><rect x="569" y="349" width="5" height="17"/><rect x="576" y="314" width="5" height="36"/><rect x="584" y="232" width="5" height="83"/><rect x="591" y="185" width="5" height="48"/><rect x="598" y="185" width="5" height="15"/><rect x="605" y="199" width="5" height="6"/><rect x="613" y="204" width="5" height="29"/><rect x="620" y="218" width="5" height="15"/><rect x="627" y="200" width="5" height="19"/><rect x="635" y="200" width="5" height="41"/><rect x="642" y="172" width="5" height="69"/><rect x="649" y="172" width="5" height="16"/><rect x="656" y="187" width="5" height="69"/><rect x="664" y="255" width="5" height="5"/><rect x="671" y="205" width="5" height="55"/><rect x="678" y="190" width="5" height="16"/><rect x="686" y="190" width="5" height="10"/><rect x="693" y="199" width="5" height="14"/><rect x="700" y="185" width="5" height="28"/><rect x="708" y="160" width="5" height="26"/><rect x="715" y="160" width="5" height="28"/><rect x="722" y="187" width="5" height="38"/><rect x="729" y="224" width="5" height="34"/><rect x="737" y="257" width="5" height="10"/><rect x="744" y="251" width="5" height="16"/><rect x="751" y="251" width="5" height="1"/><rect x="759" y="230" width="5" height="22"/><rect x="766" y="230" width="5" height="34"/><rect x="773" y="263" width="5" height="12"/><rect x="781" y="274" width="5" height="4"/><rect x="788" y="277" width="5" height="26"/><rect x="795" y="302" width="5" height="6"/><rect x="802" y="307" width="5" height="1"/><rect x="810" y="284" width="5" height="24"/><rect x="817" y="238" width="5" height="47"/><rect x="824" y="238" width="5" height="26"/><rect x="832" y="263" width="5" height="4"/><rect x="839" y="242" width="5" height="25"/><rect x="846" y="242" width="5" height="9"/><rect x="853" y="250" width="5" height="25"/><rect x="861" y="274" width="5" height="5"/><rect x="868" y="278" width="5" height="6"/><rect x="875" y="259" width="5" height="25"/><rect x="883" y="233" width="5" height="27"/><rect x="890" y="233" width="5" height="12"/><rect x="897" y="220" width="5" height="25"/><rect x="905" y="220" width="5" height="36"/><rect x="912" y="255" width="5" height="18"/><rect x="919" y="272" width="5" height="12"/><rect x="926" y="284" width="5" height="6"/><rect x="934" y="243" width="5" height="47"/><rect x="941" y="239" width="5" height="5"/><rect x="948" y="207" width="5" height="33"/><rect x="956" y="207" width="5" height="13"/><rect x="963" y="219" width="5" height="33"/><rect x="970" y="251" width="5" height="29"/><rect x="977" y="199" width="5" height="81"/><rect x="985" y="199" width="5" height="19"/><rect x="992" y="106" width="5" height="112"/><rect x="999" y="106" width="5" height="25"/><rect x="1007" y="121" width="5" height="10"/><rect x="1014" y="121" width="5" height="29"/><rect x="1021" y="149" width="5" height="9"/><rect x="1029" y="157" width="5" height="34"/><rect x="1036" y="174" width="5" height="17"/><rect x="1043" y="174" width="5" height="18"/><rect x="1050" y="177" width="5" height="15"/><rect x="1058" y="177" width="5" height="1"/><rect x="1065" y="153" width="5" height="26"/><rect x="1072" y="153" width="5" height="36"/><rect x="1080" y="187" width="5" height="1"/><rect x="1087" y="187" width="5" height="9"/><rect x="1094" y="187" width="5" height="9"/><rect x="1102" y="187" width="5" height="10"/><rect x="1109" y="189" width="5" height="8"/><rect x="1116" y="151" width="5" height="39"/><rect x="1123" y="133" width="5" height="19"/><rect x="1131" y="133" width="5" height="8"/><rect x="1138" y="113" width="5" height="28"/><rect x="1145" y="107" width="5" height="7"/></g>
<g fill="#22ab94"><rect x="8" y="280" width="3" height="3"/><rect x="15" y="276" width="3" height="3"/><rect x="52" y="372" width="3" height="22"/><rect x="67" y="323" width="3" height="55"/><rect x="74" y="293" width="3" height="29"/><rect x="81" y="291" width="3" height="1"/><rect x="118" y="397" width="3" height="12"/><rect x="132" y="387" width="3" height="42"/><rect x="161" y="414" width="3" height="1"/><rect x="176" y="411" width="3" height="3"/><rect x="198" y="471" width="3" height="44"/><rect x="212" y="493" width="3" height="7"/><rect x="220" y="484" width="3" height="8"/><rect x="234" y="437" width="3" height="61"/><rect x="242" y="415" width="3" height="21"/><rect x="256" y="404" width="3" height="22"/><rect x="264" y="393" width="3" height="10"/><rect x="278" y="313" width="3" height="113"/><rect x="300" y="350" width="3" height="14"/><rect x="307" y="337" width="3" height="12"/><rect x="315" y="326" width="3" height="10"/><rect x="322" y="323" width="3" height="2"/><rect x="344" y="352" width="3" height="2"/><rect x="351" y="335" width="3" height="16"/><rect x="358" y="320" width="3" height="14"/><rect x="395" y="396" width="3" height="1"/><rect x="402" y="374" width="3" height="21"/><rect x="431" y="399" width="3" height="12"/><rect x="439" y="394" width="3" height="4"/><rect x="446" y="387" width="3" height="6"/><rect x="453" y="338" width="3" height="48"/><rect x="468" y="366" width="3" height="85"/><rect x="490" y="416" width="3" height="9"/><rect x="497" y="406" width="3" height="9"/><rect x="504" y="392" width="3" height="13"/><rect x="526" y="416" width="3" height="38"/><rect x="533" y="405" width="3" height="10"/><rect x="541" y="350" width="3" height="54"/><rect x="548" y="346" width="3" height="3"/><rect x="570" y="350" width="3" height="15"/><rect x="577" y="315" width="3" height="34"/><rect x="585" y="233" width="3" height="81"/><rect x="592" y="186" width="3" height="46"/><rect x="621" y="219" width="3" height="13"/><rect x="628" y="201" width="3" height="17"/><rect x="643" y="173" width="3" height="67"/><rect x="672" y="206" width="3" height="53"/><rect x="679" y="191" width="3" height="14"/><rect x="701" y="186" width="3" height="26"/><rect x="709" y="161" width="3" height="24"/><rect x="745" y="252" width="3" height="14"/><rect x="760" y="231" width="3" height="20"/><rect x="811" y="285" width="3" height="22"/><rect x="818" y="239" width="3" height="45"/><rect x="840" y="243" width="3" height="23"/><rect x="876" y="260" width="3" height="23"/><rect x="884" y="234" width="3" height="25"/><rect x="898" y="221" width="3" height="23"/><rect x="935" y="244" width="3" height="45"/><rect x="942" y="240" width="3" height="3"/><rect x="949" y="208" width="3" height="31"/><rect x="978" y="200" width="3" height="79"/><rect x="993" y="107" width="3" height="110"/><rect x="1008" y="122" width="3" height="8"/><rect x="1037" y="175" width="3" height="15"/><rect x="1051" y="178" width="3" height="13"/><rect x="1066" y="154" width="3" height="24"/><rect x="1095" y="188" width="3" height="7"/><rect x="1110" y="190" width="3" height="6"/><rect x="1117" y="152" width="3" height="37"/><rect x="1124" y="134" width="3" height="17"/><rect x="1139" y="114" width="3" height="26"/><rect x="1146" y="108" width="3" height="5"/></g><g fill="#f23645"><rect x="23" y="276" width="3" height="60"/><rect x="30" y="337" width="3" height="30"/><rect x="45" y="367" width="3" height="27"/><rect x="59" y="372" width="3" height="6"/><rect x="88" y="291" width="3" height="43"/><rect x="96" y="335" width="3" height="39"/><rect x="103" y="375" width="3" height="27"/><rect x="110" y="403" width="3" height="6"/><rect x="125" y="397" width="3" height="32"/><rect x="140" y="387" width="3" height="15"/><rect x="154" y="402" width="3" height="13"/><rect x="183" y="411" width="3" height="103"/><rect x="205" y="471" width="3" height="29"/><rect x="227" y="484" width="3" height="14"/><rect x="249" y="415" width="3" height="11"/><rect x="271" y="393" width="3" height="33"/><rect x="285" y="313" width="3" height="24"/><rect x="293" y="338" width="3" height="26"/><rect x="329" y="323" width="3" height="9"/><rect x="336" y="333" width="3" height="21"/><rect x="366" y="320" width="3" height="6"/><rect x="373" y="327" width="3" height="41"/><rect x="380" y="369" width="3" height="23"/><rect x="388" y="393" width="3" height="4"/><rect x="409" y="374" width="3" height="4"/><rect x="424" y="378" width="3" height="33"/><rect x="461" y="338" width="3" height="113"/><rect x="475" y="366" width="3" height="41"/><rect x="482" y="408" width="3" height="17"/><rect x="512" y="392" width="3" height="73"/><rect x="519" y="424" width="3" height="30"/><rect x="555" y="346" width="3" height="11"/><rect x="563" y="358" width="3" height="7"/><rect x="599" y="186" width="3" height="13"/><rect x="606" y="200" width="3" height="4"/><rect x="614" y="205" width="3" height="27"/><rect x="636" y="201" width="3" height="39"/><rect x="650" y="173" width="3" height="14"/><rect x="657" y="188" width="3" height="67"/><rect x="665" y="256" width="3" height="3"/><rect x="687" y="191" width="3" height="8"/><rect x="694" y="200" width="3" height="12"/><rect x="716" y="161" width="3" height="26"/><rect x="723" y="188" width="3" height="36"/><rect x="730" y="225" width="3" height="32"/><rect x="738" y="258" width="3" height="8"/><rect x="767" y="231" width="3" height="32"/><rect x="774" y="264" width="3" height="10"/><rect x="782" y="275" width="3" height="2"/><rect x="789" y="278" width="3" height="24"/><rect x="796" y="303" width="3" height="4"/><rect x="825" y="239" width="3" height="24"/><rect x="833" y="264" width="3" height="2"/><rect x="847" y="243" width="3" height="7"/><rect x="854" y="251" width="3" height="23"/><rect x="862" y="275" width="3" height="3"/><rect x="869" y="279" width="3" height="4"/><rect x="891" y="234" width="3" height="10"/><rect x="906" y="221" width="3" height="34"/><rect x="913" y="256" width="3" height="16"/><rect x="920" y="273" width="3" height="10"/><rect x="927" y="285" width="3" height="4"/><rect x="957" y="208" width="3" height="11"/><rect x="964" y="220" width="3" height="31"/><rect x="971" y="252" width="3" height="27"/><rect x="986" y="200" width="3" height="17"/><rect x="1000" y="107" width="3" height="23"/><rect x="1015" y="122" width="3" height="27"/><rect x="1022" y="150" width="3" height="7"/><rect x="1030" y="158" width="3" height="32"/><rect x="1044" y="175" width="3" height="16"/><rect x="1073" y="154" width="3" height="34"/><rect x="1088" y="188" width="3" height="7"/><rect x="1103" y="188" width="3" height="8"/><rect x="1132" y="134" width="3" height="6"/></g>
</g>
<g fill="none" stroke="#2962ff" stroke-width="2" stroke-linejoin="round" stroke-linecap="round"><polyline points="1148,106.6 1176.4,91 1184,98 1220.4,77.6 1227.6,85 1249.5,67.7 1271.4,88.2 1307.8,79.8 1330.1,106.6"/><polyline points="1332,92.2 1330.1,106.6 1315.7,105.4"/></g>
<g clip-path="url(#cp)">
<g fill="#26a69a"><rect x="72" y="688" width="6" height="13"/><rect x="79" y="675" width="6" height="26"/><rect x="159" y="699" width="6" height="2"/><rect x="166" y="697" width="7" height="4"/><rect x="174" y="693" width="6" height="8"/><rect x="232" y="690" width="6" height="11"/><rect x="239" y="673" width="7" height="28"/><rect x="247" y="665" width="6" height="36"/><rect x="254" y="655" width="6" height="46"/><rect x="261" y="648" width="7" height="53"/><rect x="276" y="631" width="6" height="70"/><rect x="283" y="626" width="6" height="75"/><rect x="538" y="688" width="7" height="13"/><rect x="546" y="676" width="6" height="25"/><rect x="553" y="672" width="6" height="29"/><rect x="568" y="671" width="6" height="30"/><rect x="575" y="663" width="6" height="38"/><rect x="582" y="641" width="7" height="60"/><rect x="590" y="620" width="6" height="81"/><rect x="597" y="615" width="6" height="86"/><rect x="641" y="661" width="6" height="40"/><rect x="845" y="699" width="6" height="2"/><rect x="881" y="694" width="7" height="7"/><rect x="889" y="691" width="6" height="10"/><rect x="896" y="684" width="6" height="17"/><rect x="940" y="696" width="6" height="5"/><rect x="947" y="686" width="6" height="15"/><rect x="954" y="682" width="7" height="19"/><rect x="976" y="689" width="6" height="12"/><rect x="983" y="686" width="7" height="15"/><rect x="991" y="661" width="6" height="40"/><rect x="998" y="652" width="6" height="49"/><rect x="1005" y="648" width="7" height="53"/><rect x="1122" y="700" width="6" height="1"/><rect x="1129" y="695" width="7" height="6"/><rect x="1137" y="687" width="6" height="14"/><rect x="1144" y="682" width="6" height="19"/></g>
<g fill="#b2dfdb"><rect x="86" y="676" width="6" height="25"/><rect x="93" y="687" width="7" height="14"/><rect x="101" y="699" width="6" height="2"/><rect x="269" y="653" width="6" height="48"/><rect x="290" y="633" width="7" height="68"/><rect x="298" y="636" width="6" height="65"/><rect x="305" y="638" width="6" height="63"/><rect x="312" y="640" width="7" height="61"/><rect x="320" y="644" width="6" height="57"/><rect x="327" y="651" width="6" height="50"/><rect x="334" y="664" width="6" height="37"/><rect x="341" y="673" width="7" height="28"/><rect x="349" y="677" width="6" height="24"/><rect x="356" y="677" width="6" height="24"/><rect x="363" y="681" width="7" height="20"/><rect x="371" y="694" width="6" height="7"/><rect x="560" y="673" width="7" height="28"/><rect x="604" y="617" width="6" height="84"/><rect x="611" y="631" width="7" height="70"/><rect x="619" y="640" width="6" height="61"/><rect x="626" y="646" width="6" height="55"/><rect x="633" y="663" width="7" height="38"/><rect x="648" y="667" width="6" height="34"/><rect x="655" y="689" width="6" height="12"/><rect x="903" y="689" width="7" height="12"/><rect x="911" y="696" width="6" height="5"/><rect x="962" y="689" width="6" height="12"/><rect x="969" y="700" width="6" height="1"/><rect x="1013" y="655" width="6" height="46"/><rect x="1020" y="663" width="6" height="38"/><rect x="1027" y="679" width="7" height="22"/><rect x="1035" y="687" width="6" height="14"/><rect x="1042" y="698" width="6" height="3"/></g>
<g fill="#ff5252"><rect x="20" y="700" width="7" height="15"/><rect x="28" y="700" width="6" height="25"/><rect x="35" y="700" width="6" height="29"/><rect x="42" y="700" width="7" height="35"/><rect x="108" y="700" width="6" height="8"/><rect x="115" y="700" width="7" height="9"/><rect x="123" y="700" width="6" height="15"/><rect x="181" y="700" width="6" height="15"/><rect x="188" y="700" width="7" height="26"/><rect x="203" y="700" width="6" height="21"/><rect x="378" y="700" width="6" height="10"/><rect x="385" y="700" width="7" height="20"/><rect x="393" y="700" width="6" height="25"/><rect x="422" y="700" width="6" height="26"/><rect x="458" y="700" width="7" height="20"/><rect x="473" y="700" width="6" height="13"/><rect x="480" y="700" width="6" height="18"/><rect x="509" y="700" width="7" height="21"/><rect x="517" y="700" width="6" height="25"/><rect x="662" y="700" width="7" height="7"/><rect x="684" y="700" width="7" height="5"/><rect x="692" y="700" width="6" height="10"/><rect x="714" y="700" width="6" height="5"/><rect x="721" y="700" width="6" height="17"/><rect x="728" y="700" width="6" height="33"/><rect x="735" y="700" width="7" height="44"/><rect x="743" y="700" width="6" height="46"/><rect x="750" y="700" width="6" height="47"/><rect x="765" y="700" width="6" height="43"/><rect x="772" y="700" width="6" height="45"/><rect x="779" y="700" width="7" height="46"/><rect x="787" y="700" width="6" height="50"/><rect x="794" y="700" width="6" height="52"/><rect x="852" y="700" width="6" height="3"/><rect x="859" y="700" width="7" height="6"/><rect x="867" y="700" width="6" height="8"/><rect x="918" y="700" width="6" height="5"/><rect x="925" y="700" width="6" height="10"/><rect x="1049" y="700" width="6" height="3"/><rect x="1056" y="700" width="7" height="6"/><rect x="1071" y="700" width="6" height="10"/><rect x="1078" y="700" width="7" height="14"/><rect x="1086" y="700" width="6" height="18"/><rect x="1093" y="700" width="6" height="19"/><rect x="1100" y="700" width="7" height="21"/></g>
<g fill="#ffcdd2"><rect x="6" y="700" width="6" height="17"/><rect x="13" y="700" width="6" height="8"/><rect x="50" y="700" width="6" height="30"/><rect x="57" y="700" width="6" height="27"/><rect x="64" y="700" width="7" height="9"/><rect x="130" y="700" width="6" height="8"/><rect x="137" y="700" width="7" height="5"/><rect x="145" y="700" width="6" height="2"/><rect x="152" y="700" width="6" height="1"/><rect x="196" y="700" width="6" height="21"/><rect x="210" y="700" width="6" height="18"/><rect x="217" y="700" width="7" height="11"/><rect x="225" y="700" width="6" height="8"/><rect x="400" y="700" width="6" height="23"/><rect x="407" y="700" width="6" height="22"/><rect x="414" y="700" width="7" height="20"/><rect x="429" y="700" width="6" height="25"/><rect x="436" y="700" width="7" height="23"/><rect x="444" y="700" width="6" height="18"/><rect x="451" y="700" width="6" height="4"/><rect x="466" y="700" width="6" height="10"/><rect x="487" y="700" width="7" height="18"/><rect x="495" y="700" width="6" height="14"/><rect x="502" y="700" width="6" height="8"/><rect x="524" y="700" width="6" height="17"/><rect x="531" y="700" width="6" height="8"/><rect x="670" y="700" width="6" height="6"/><rect x="677" y="700" width="6" height="3"/><rect x="699" y="700" width="6" height="8"/><rect x="706" y="700" width="7" height="2"/><rect x="757" y="700" width="7" height="40"/><rect x="801" y="700" width="6" height="50"/><rect x="808" y="700" width="7" height="42"/><rect x="816" y="700" width="6" height="24"/><rect x="823" y="700" width="6" height="17"/><rect x="830" y="700" width="7" height="13"/><rect x="838" y="700" width="6" height="4"/><rect x="874" y="700" width="6" height="4"/><rect x="932" y="700" width="7" height="3"/><rect x="1064" y="700" width="6" height="3"/><rect x="1108" y="700" width="6" height="20"/><rect x="1115" y="700" width="6" height="11"/></g>
<line x1="13" y1="700.5" x2="1450" y2="700.5" stroke="rgba(120,123,134,0.55)" stroke-width="1" stroke-dasharray="5 6"/>
</g>
<text x="17.8" y="617.2" textLength="110.4" lengthAdjust="spacingAndGlyphs" font-size="12.5">MACD (12, 26, close)</text>
<text x="136.6" y="617.2" textLength="41.4" lengthAdjust="spacingAndGlyphs" fill="#22ab94" font-size="12.5">0,00019</text>
<g clip-path="url(#cl)">
<text x="1459.2" y="99.3" textLength="41.7" lengthAdjust="spacingAndGlyphs" font-size="12">1,35800</text>
<text x="1459.2" y="154.3" textLength="41.7" lengthAdjust="spacingAndGlyphs" font-size="12">1,35600</text>
<text x="1459.2" y="209.3" textLength="41.7" lengthAdjust="spacingAndGlyphs" font-size="12">1,35400</text>
<text x="1459.2" y="264.3" textLength="41.7" lengthAdjust="spacingAndGlyphs" font-size="12">1,35200</text>
<text x="1459.2" y="319.3" textLength="41.7" lengthAdjust="spacingAndGlyphs" font-size="12">1,35000</text>
<text x="1459.2" y="374.3" textLength="41.7" lengthAdjust="spacingAndGlyphs" font-size="12">1,34800</text>
<text x="1459.2" y="429.3" textLength="41.7" lengthAdjust="spacingAndGlyphs" font-size="12">1,34600</text>
<text x="1459.2" y="484.3" textLength="41.7" lengthAdjust="spacingAndGlyphs" font-size="12">1,34400</text>
<text x="1459.2" y="539.3" textLength="41.7" lengthAdjust="spacingAndGlyphs" font-size="12">1,34200</text>
<text x="1459.2" y="594.3" textLength="41.7" lengthAdjust="spacingAndGlyphs" font-size="12">1,34000</text>
</g>
<g clip-path="url(#ca)">
<text x="1459.2" y="605.3" textLength="41.7" lengthAdjust="spacingAndGlyphs" font-size="12">0,00100</text>
<text x="1459.2" y="654.3" textLength="41.7" lengthAdjust="spacingAndGlyphs" font-size="12">0,00050</text>
<text x="1459.2" y="704.0999999999999" textLength="41.7" lengthAdjust="spacingAndGlyphs" font-size="12">0,00000</text>
<text x="1459.6" y="753.3" textLength="48.2" lengthAdjust="spacingAndGlyphs" font-size="12">−0,00050</text>
</g>
<g clip-path="url(#cl)"><rect x="1451" y="52.5" width="56" height="17.0" rx="2" fill="#f23645"/><text x="1459.3" y="64.3" font-size="12" textLength="41" lengthAdjust="spacingAndGlyphs" fill="#fff" font-weight="bold">1,35929</text></g>
<g><rect x="1451" y="99" width="56" height="31" rx="2" fill="#22ab94"/><text x="1459.3" y="111.2" font-size="12" textLength="41" lengthAdjust="spacingAndGlyphs" fill="#fff" font-weight="bold">1,35761</text><text x="1459.3" y="124.9" font-size="12" textLength="29.8" lengthAdjust="spacingAndGlyphs" fill="#fff" fill-opacity="0.8" font-weight="bold">57:58</text></g>
<g><rect x="1451" y="130" width="56" height="17" rx="2" fill="#f23645"/><text x="1459.3" y="142.2" font-size="12" textLength="41" lengthAdjust="spacingAndGlyphs" fill="#fff" font-weight="bold">1,35760</text></g>
<g><rect x="1451" y="266" width="56" height="17" rx="2" fill="#4caf50"/><text x="1459.3" y="277.8" font-size="12" textLength="41" lengthAdjust="spacingAndGlyphs" fill="#fff" font-weight="bold">1,35153</text></g>
<g><rect x="1451" y="296" width="56" height="17" rx="2" fill="#4caf50"/><text x="1459.3" y="308" font-size="12" textLength="41" lengthAdjust="spacingAndGlyphs" fill="#fff" font-weight="bold">1,35041</text></g>
<g><rect x="1451" y="510" width="56" height="17" rx="2" fill="#4caf50"/><text x="1459.3" y="521.9" font-size="12" textLength="41" lengthAdjust="spacingAndGlyphs" fill="#fff" font-weight="bold">1,34264</text></g>
<g><rect x="1451" y="533" width="56" height="17" rx="2" fill="#4caf50"/><text x="1459.3" y="544.8" font-size="12" textLength="41" lengthAdjust="spacingAndGlyphs" fill="#fff" font-weight="bold">1,34179</text></g>
<rect x="1454.5" y="31" width="59" height="26" rx="4.5" fill="#fff" stroke="#f0f0f0" stroke-width="1.3"/>
<text x="1463.4" y="49" textLength="20.2" lengthAdjust="spacingAndGlyphs" font-size="12">USD</text>
<text x="67.9" y="783" textLength="29.5" lengthAdjust="spacingAndGlyphs" font-size="12">12:00</text>
<text x="163.8" y="783" textLength="12.8" lengthAdjust="spacingAndGlyphs" font-size="12">29</text>
<text x="243.0" y="783" textLength="29.5" lengthAdjust="spacingAndGlyphs" font-size="12">12:00</text>
<text x="338.9" y="783" textLength="12.8" lengthAdjust="spacingAndGlyphs" font-size="12">30</text>
<text x="418.1" y="783" textLength="29.5" lengthAdjust="spacingAndGlyphs" font-size="12">12:00</text>
<text x="507.9" y="783" textLength="25" lengthAdjust="spacingAndGlyphs" font-weight="bold" font-size="12">Июн</text>
<text x="593.2" y="783" textLength="29.5" lengthAdjust="spacingAndGlyphs" font-size="12">12:00</text>
<text x="692.3" y="783" textLength="6.4" lengthAdjust="spacingAndGlyphs" font-size="12">3</text>
<text x="768.3" y="783" textLength="29.5" lengthAdjust="spacingAndGlyphs" font-size="12">12:00</text>
<text x="867.4" y="783" textLength="6.4" lengthAdjust="spacingAndGlyphs" font-size="12">4</text>
<text x="943.4" y="783" textLength="29.5" lengthAdjust="spacingAndGlyphs" font-size="12">12:00</text>
<text x="1042.5" y="783" textLength="6.4" lengthAdjust="spacingAndGlyphs" font-size="12">5</text>
<text x="1118.5" y="783" textLength="29.5" lengthAdjust="spacingAndGlyphs" font-size="12">12:00</text>
<text x="1217.5" y="783" textLength="6.4" lengthAdjust="spacingAndGlyphs" font-size="12">6</text>
<text x="1293.5" y="783" textLength="29.5" lengthAdjust="spacingAndGlyphs" font-size="12">12:00</text>
<text x="1392.6" y="783" textLength="6.4" lengthAdjust="spacingAndGlyphs" font-size="12">9</text>
<text x="10.4" y="19.3" textLength="387.6" lengthAdjust="spacingAndGlyphs" font-size="12.5">Ascv33 опубликовал(а) на TradingView.com, Июн 05, 2025 14:02 UTC+3</text>
<g fill="#0b0c12"><path d="M10.1 805.2h7.6v9.5h-4v-5.9h-3.6z"/><circle cx="21.1" cy="807.1" r="1.8"/><path d="M24.5 805.2L29.6 805.2L25.6 814.7L21.3 814.7Z"/></g>
<text x="32.9" y="815" textLength="70.5" lengthAdjust="spacingAndGlyphs" font-size="13">TradingView</text>
</svg></body></html>
